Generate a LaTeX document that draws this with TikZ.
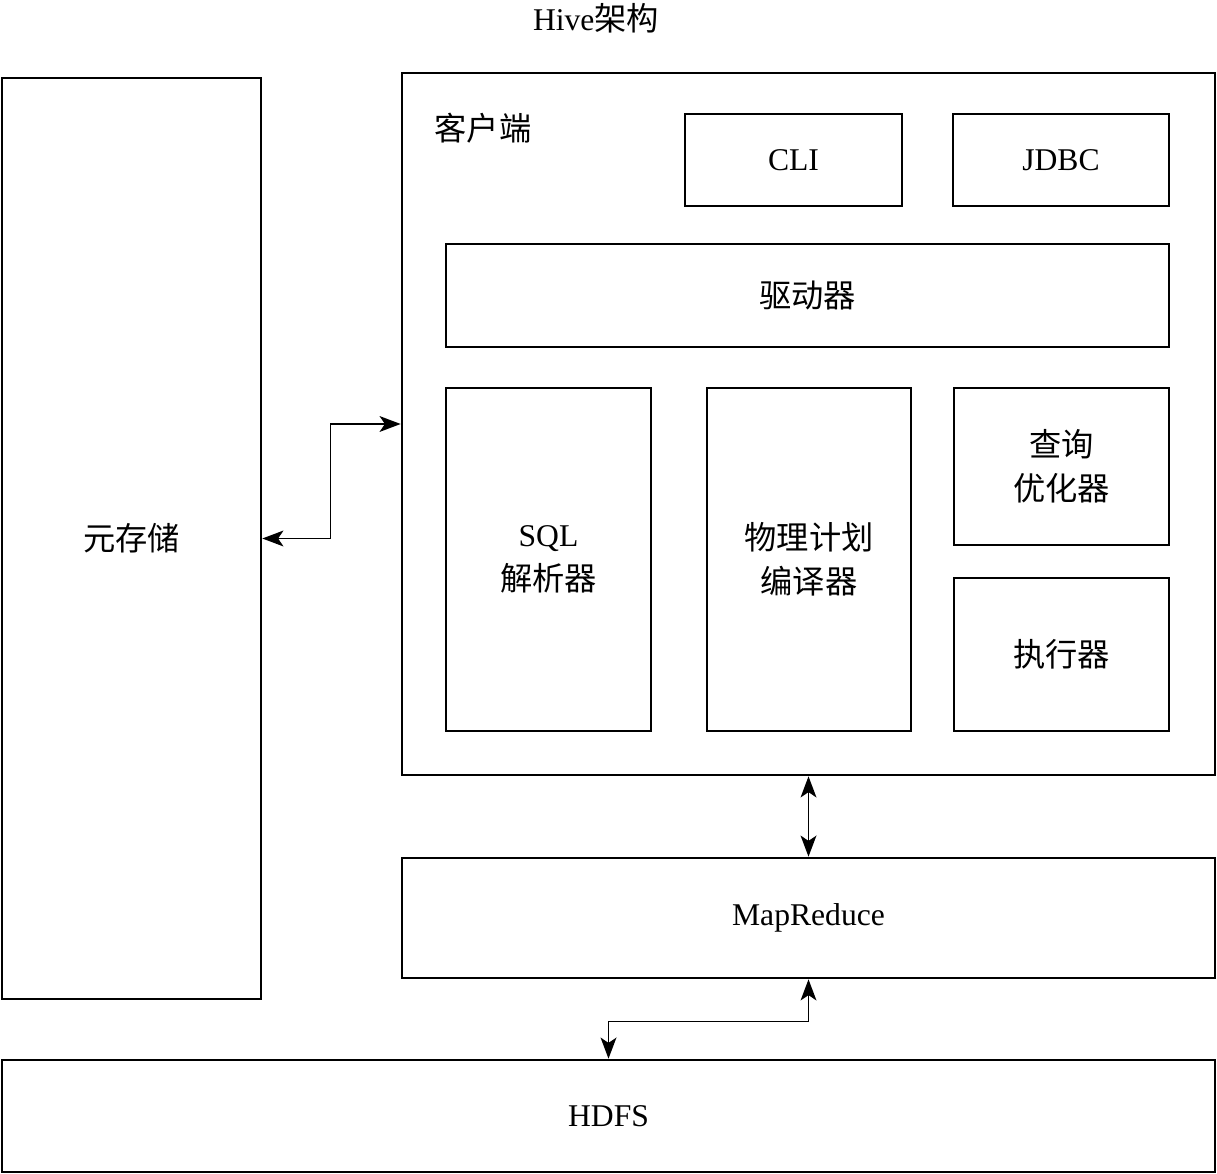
\documentclass[tikz,border=0pt]{standalone}
\usepackage{fontspec}
\setmainfont{Liberation Serif}
\newfontfamily\cjk[Scale=1.02]{Noto Sans CJK SC}
\usetikzlibrary{arrows.meta}
\newcommand{\zh}[1]{{\cjk #1}}

\begin{document}
\begin{tikzpicture}[
  every node/.style={font=\fontsize{18}{25}\selectfont},
  box/.style={draw, line width=1.5pt, align=center, inner sep=0pt},
  link/.style={line width=0.85pt, {Stealth[length=12pt,width=9pt,inset=3pt]}-{Stealth[length=12pt,width=9pt,inset=3pt]}}]
  \useasboundingbox (0,0) rectangle (24.34,-23.48);
  \node (title) at (11.92,-0.36) {Hive\zh{架构}};
  \node[box, minimum width=5.18cm, minimum height=18.42cm] (meta) at (2.63,-10.77) {\zh{元存储}};
  \node[box, minimum width=16.26cm, minimum height=14.04cm] (client) at (16.17,-8.48) {};
  \node (clientlbl) at (9.66,-2.56) {\zh{客户端}};
  \node[box, minimum width=4.34cm, minimum height=1.84cm] (cli) at (15.87,-3.2) {CLI};
  \node[box, minimum width=4.32cm, minimum height=1.84cm] (jdbc) at (21.22,-3.2) {JDBC};
  \node[box, minimum width=14.46cm, minimum height=2.06cm] (driver) at (16.15,-5.91) {\zh{驱动器}};
  \node[box, minimum width=4.1cm, minimum height=6.86cm] (parser) at (10.97,-11.19) {SQL\\\zh{解析器}};
  \node[box, minimum width=4.08cm, minimum height=6.86cm] (compiler) at (16.18,-11.19) {\zh{物理计划}\\\zh{编译器}};
  \node[box, minimum width=4.3cm, minimum height=3.14cm] (optimizer) at (21.23,-9.33) {\zh{查询}\\\zh{优化器}};
  \node[box, minimum width=4.3cm, minimum height=3.06cm] (executor) at (21.23,-13.09) {\zh{执行器}};
  \node[box, minimum width=16.26cm, minimum height=2.4cm] (mr) at (16.17,-18.36) {MapReduce};
  \node[box, minimum width=24.26cm, minimum height=2.24cm] (hdfs) at (12.17,-22.32) {HDFS};
  \draw[link] (client.west) -- ++(-1.4,0) |- (meta.east);
  \draw[link] (client.south) -- (mr.north);
  \draw[link] (mr.south) -- ++(0,-0.84) -| (hdfs.north);
\end{tikzpicture}
\end{document}
